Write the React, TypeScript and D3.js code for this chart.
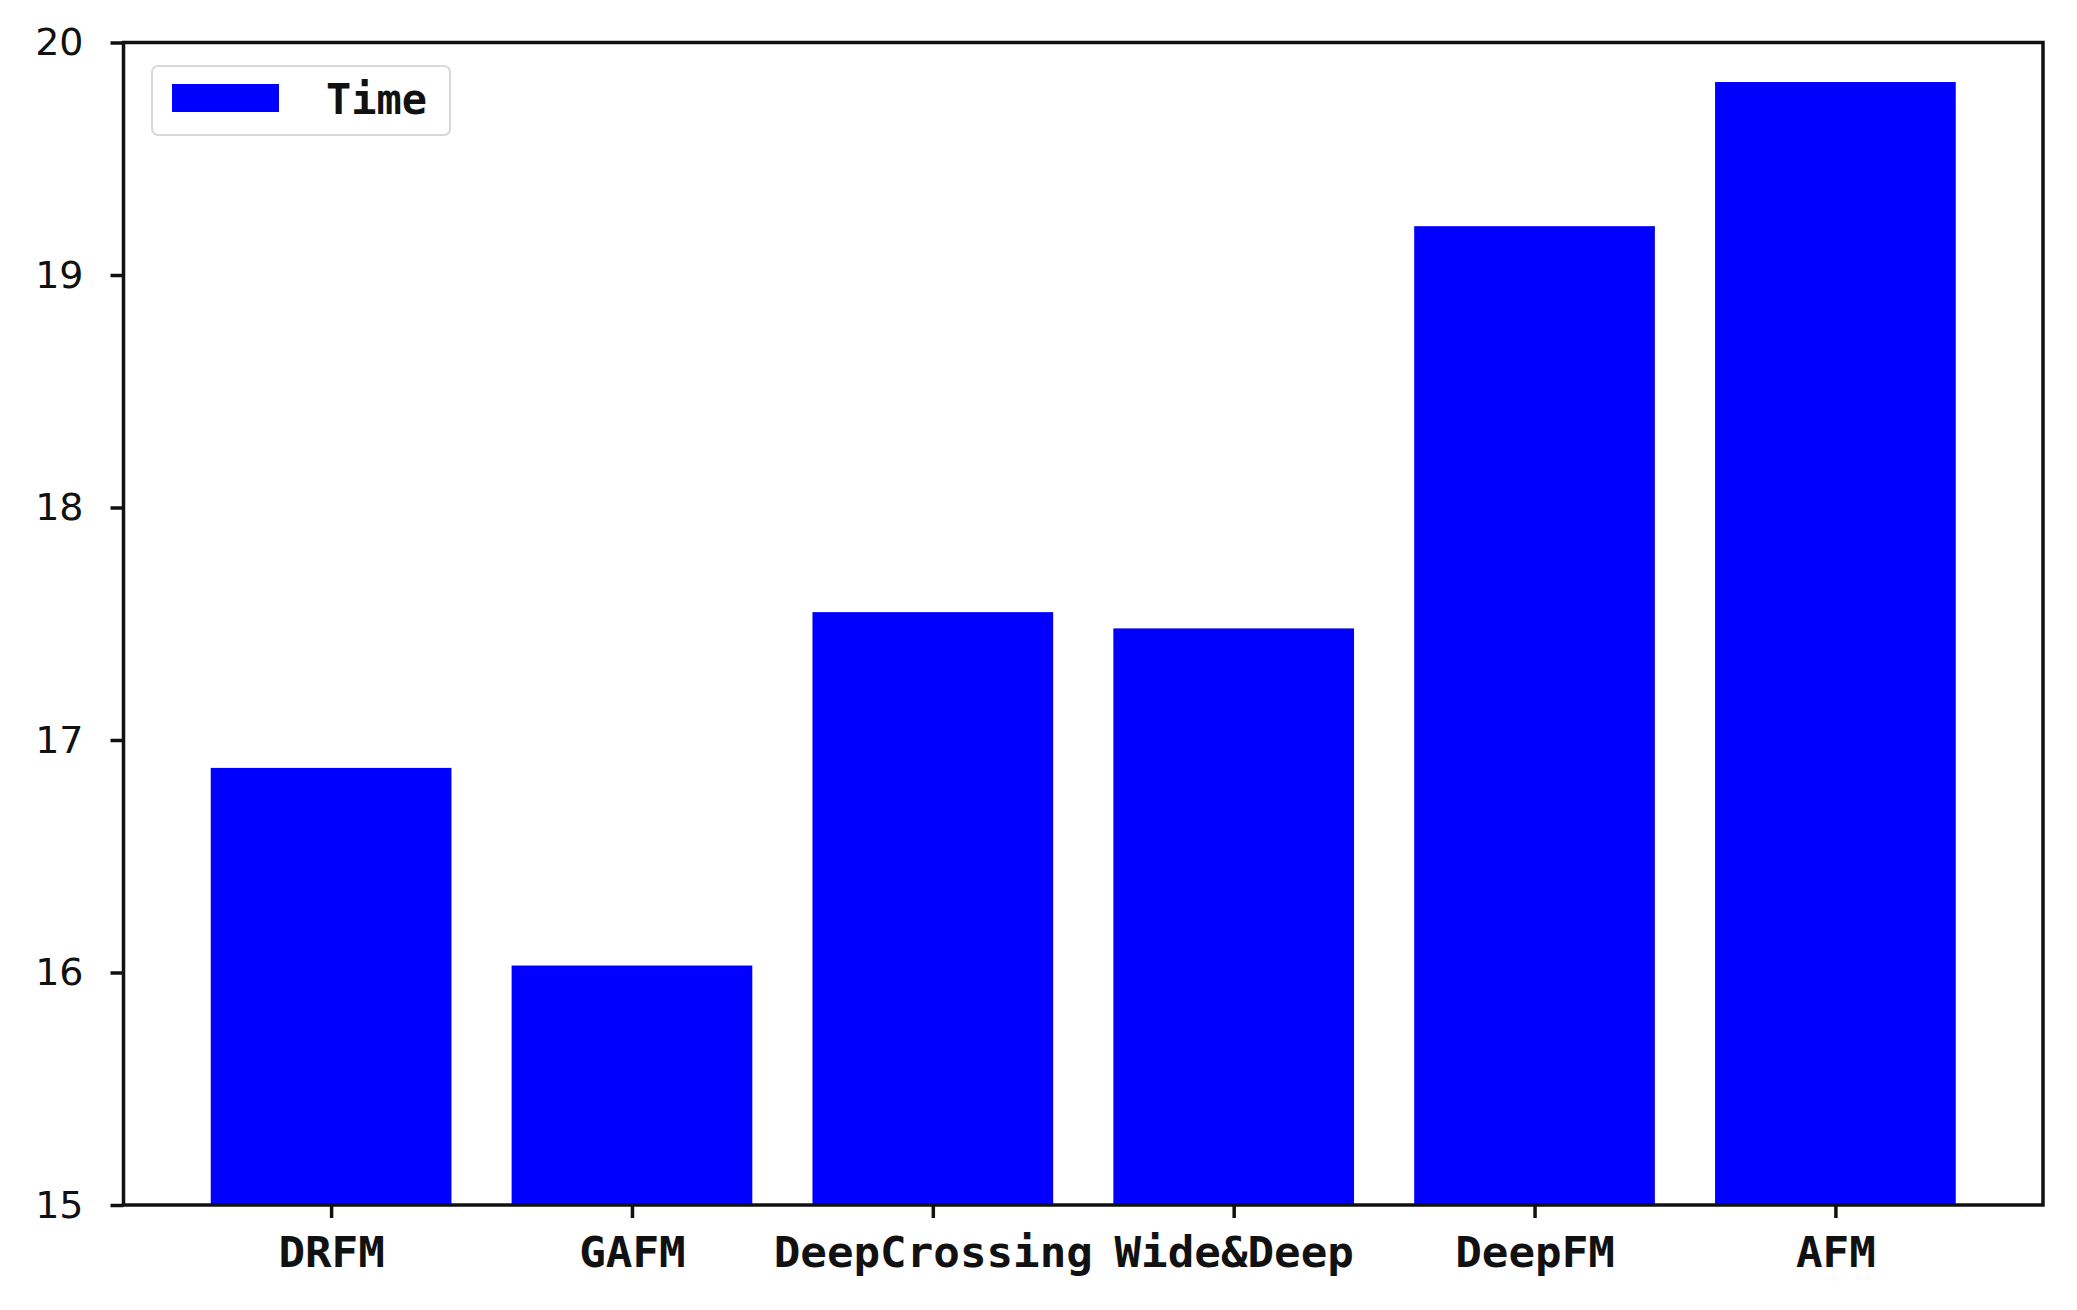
import React, { useRef, useEffect } from 'react'
import * as d3 from 'd3'

// data
const models = ['DRFM', 'GAFM', 'DeepCrossing', 'Wide&Deep', 'DeepFM', 'AFM']
const timeValues = [16.88, 16.03, 17.55, 17.48, 19.21, 19.83]
const yTicks = [15, 16, 17, 18, 19, 20]
const legendLabel = 'Time'

const W = 2077
const H = 1310
const margin = { left: 123.5, right: 2043, top: 42.5, bottom: 1205 }

const App = () => {
  const svgRef = useRef<SVGSVGElement>(null)

  useEffect(() => {
    const svg = d3.select(svgRef.current)
    svg.selectAll('*').remove()

    const n = models.length
    const pad = 0.05 * (n - 1 + 0.8)
    const x = d3.scaleLinear()
      .domain([-0.4 - pad, n - 1 + 0.4 + pad])
      .range([margin.left, margin.right])
    const y = d3.scaleLinear().domain([15, 20]).range([margin.bottom, margin.top])

    // bars
    svg.append('g')
      .selectAll('rect')
      .data(timeValues)
      .enter()
      .append('rect')
      .attr('x', (d, i) => x(i - 0.4))
      .attr('width', (d, i) => x(i + 0.4) - x(i - 0.4))
      .attr('y', d => y(d))
      .attr('height', d => y(15) - y(d))
      .attr('fill', '#0000ff')

    // y axis
    const yAxis = svg.append('g')
      .attr('transform', `translate(${margin.left},0)`)
      .call(d3.axisLeft(y).tickValues(yTicks).tickSize(13).tickPadding(27).tickFormat(d3.format('d')))
    yAxis.select('.domain').remove()
    yAxis.selectAll('line').attr('stroke', '#111').attr('stroke-width', 3.5)
    yAxis.selectAll('text')
      .attr('font-family', 'DejaVu Sans, sans-serif')
      .attr('font-size', 38)
      .attr('fill', '#111')

    // x axis
    const xAxis = svg.append('g')
      .attr('transform', `translate(0,${margin.bottom})`)
      .call(d3.axisBottom(x).tickValues(d3.range(n)).tickSize(13).tickPadding(0).tickFormat((d: any) => models[d]))
    xAxis.select('.domain').remove()
    xAxis.selectAll('line').attr('stroke', '#111').attr('stroke-width', 3.5)
    xAxis.selectAll('text')
      .attr('y', 47)
      .attr('dy', null)
      .attr('dominant-baseline', 'central')
      .attr('font-family', 'DejaVu Sans Mono, monospace')
      .attr('font-weight', 'bold')
      .attr('font-size', 42)
      .attr('fill', '#111')
      .attr('textLength', (d: any) => models[d].length * 26.6)
      .attr('lengthAdjust', 'spacingAndGlyphs')

    // frame
    svg.append('rect')
      .attr('x', margin.left)
      .attr('y', margin.top)
      .attr('width', margin.right - margin.left)
      .attr('height', margin.bottom - margin.top)
      .attr('fill', 'none')
      .attr('stroke', '#111')
      .attr('stroke-width', 3.5)

    // legend
    const lg = svg.append('g')
    lg.append('rect')
      .attr('x', 152).attr('y', 66).attr('width', 298).attr('height', 69)
      .attr('rx', 6)
      .attr('fill', '#fff').attr('stroke', '#d8d8d8').attr('stroke-width', 2)
    lg.append('rect')
      .attr('x', 172).attr('y', 84).attr('width', 107).attr('height', 28)
      .attr('fill', '#0000ff')
    lg.append('text')
      .attr('x', 326).attr('y', 99)
      .attr('dominant-baseline', 'central')
      .attr('font-family', 'DejaVu Sans Mono, monospace')
      .attr('font-weight', 'bold')
      .attr('font-size', 42)
      .attr('fill', '#111')
      .attr('textLength', 101)
      .attr('lengthAdjust', 'spacingAndGlyphs')
      .text(legendLabel)
  }, [])

  return (
    <svg ref={svgRef} width={W} height={H} style={{ display: 'block', position: 'absolute', left: 0, top: 0, background: '#fff' }} />
  )
}

export default App
